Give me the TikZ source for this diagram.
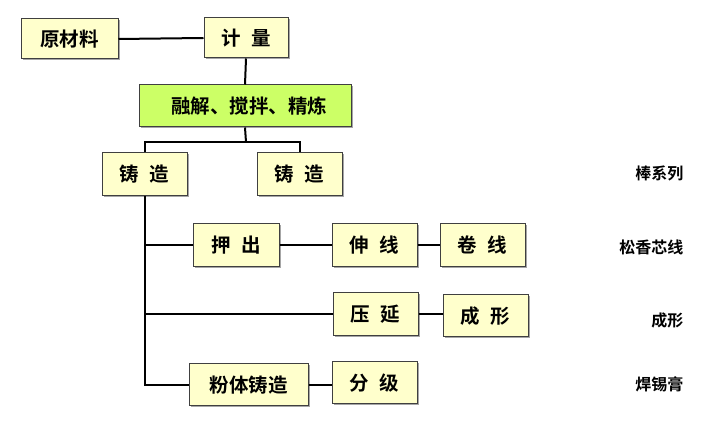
\documentclass[tikz,border=0pt]{standalone}
\usepackage{fontspec}
\newfontfamily\cjk{Noto Sans CJK SC}[BoldFont={* Bold}]
\usetikzlibrary{shadows}
\definecolor{boxy}{HTML}{FFFFCC}
\definecolor{boxg}{HTML}{CCFF66}
\definecolor{edge}{HTML}{404040}
\newcommand{\gapsp}{\hspace{0.55em}}
\begin{document}
\begin{tikzpicture}[x=1pt,y=-1pt,
  pbox/.style={draw=edge,line width=1pt,fill=boxy,
    drop shadow={shadow xshift=1.5pt,shadow yshift=-1.5pt,fill=black!35,opacity=1},
    font=\cjk\bfseries\fontsize{19.5}{22}\selectfont,inner sep=0pt},
  conn/.style={line width=2pt,black},
  lab/.style={font=\cjk\bfseries\fontsize{16}{18}\selectfont,anchor=east}]
\useasboundingbox (0,0) rectangle (713,446);
% boxes (pixel geometry)
\node[pbox,minimum width=97pt,minimum height=40pt] (raw) at (69.5,39) {原材料};
\node[pbox,minimum width=84pt,minimum height=40pt] (meas) at (246,38) {计\gapsp 量};
\node[pbox,fill=boxg,minimum width=212pt,minimum height=42pt] (melt) at (245,106) {\hspace{8pt}融解、搅拌、精炼};
\node[pbox,minimum width=85pt,minimum height=43pt] (castA) at (144.5,174.5) {铸\gapsp 造};
\node[pbox,minimum width=85pt,minimum height=43pt] (castB) at (299.5,174.5) {铸\gapsp 造};
\node[pbox,minimum width=86pt,minimum height=43pt] (extr) at (236,245.5) {押\gapsp 出};
\node[pbox,minimum width=85pt,minimum height=43pt] (draw) at (374.5,245.5) {伸\gapsp 线};
\node[pbox,minimum width=85pt,minimum height=43pt] (coil) at (482.5,245.5) {卷\gapsp 线};
\node[pbox,minimum width=85pt,minimum height=43pt] (roll) at (375.5,314.5) {压\gapsp 延};
\node[pbox,minimum width=85pt,minimum height=42pt] (form) at (485.5,316) {成\gapsp 形};
\node[pbox,minimum width=119pt,minimum height=42pt] (powd) at (248.5,385) {粉体铸造};
\node[pbox,minimum width=85pt,minimum height=42pt] (grad) at (374.5,383) {分\gapsp 级};
% labels
\node[lab] (l1) at (687,173) {棒系列};
\node[lab] (l2) at (687,247) {松香芯线};
\node[lab] (l3) at (687,320) {成形};
\node[lab] (l4) at (687,384) {焊锡膏};
% connectors
\draw[conn] (raw.east) -- (meas.west);
\draw[conn] (meas.south) -- (melt.north);
\coordinate (split) at (246,142);
\draw[conn] (melt.south) -- (split);
\draw[conn] (castA.north) |- (split) -| (castB.north);
\coordinate (trunkEnd) at (castA.south |- powd.west);
\draw[conn] (castA.south) -- (trunkEnd) -- (powd.west);
\draw[conn] (castA.south |- extr.west) -- (extr.west);
\draw[conn] (castA.south |- roll.west) -- (roll.west);
\draw[conn] (extr.east) -- (draw.west);
\draw[conn] (draw.east) -- (coil.west);
\draw[conn] (roll.east) -- (form.west |- roll.east);
\draw[conn] (powd.east) -- (grad.west |- powd.east);
\end{tikzpicture}
\end{document}
